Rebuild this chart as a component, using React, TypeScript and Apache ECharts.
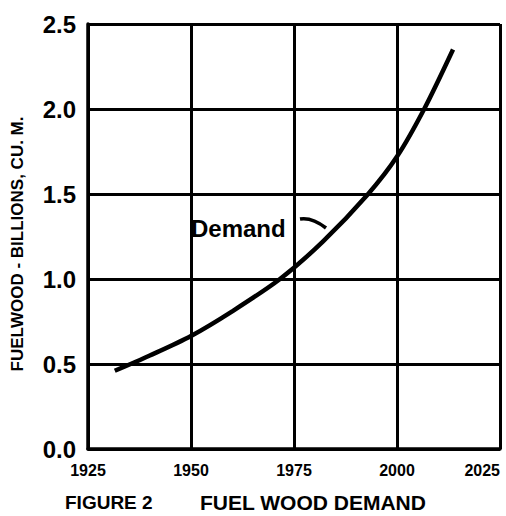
import React, { useEffect, useRef } from "react";
import * as echarts from "echarts";

const years = [1931.5, 1940, 1950, 1960, 1971.6, 1982, 1993, 2000, 2006.6, 2013.6];
const demand = [0.46, 0.55, 0.665, 0.81, 1.0, 1.22, 1.5, 1.72, 2.0, 2.35];
const xTicks = [1925, 1950, 1975, 2000, 2025];
const yTicks = [0.0, 0.5, 1.0, 1.5, 2.0, 2.5];
const yAxisTitle = "FUELWOOD - BILLIONS, CU. M.";
const figureLabel = "FIGURE 2";
const figureTitle = "FUEL WOOD DEMAND";
const seriesLabel = "Demand";

const FONT = '"Liberation Sans", Arial, sans-serif';

export default function App() {
  const ref = useRef<HTMLDivElement>(null);
  useEffect(() => {
    if (!ref.current) return;
    const chart = echarts.init(ref.current, undefined, { renderer: "svg" });
    const data = years.map((y, i) => [y, demand[i]]);
    chart.setOption({
      animation: false,
      backgroundColor: "#fff",
      grid: { left: 88, right: 6, top: 24, bottom: 67, containLabel: false },
      xAxis: {
        type: "value",
        min: xTicks[0],
        max: xTicks[xTicks.length - 1],
        interval: 25,
        axisLine: { show: true, lineStyle: { color: "#000", width: 3.5 } },
        axisTick: { show: false },
        splitLine: { show: true, lineStyle: { color: "#000", width: 3 } },
        axisLabel: {
          color: "#000",
          fontFamily: FONT,
          fontWeight: "bold",
          fontSize: 16,
          margin: 13,
          alignMaxLabel: "right",
          formatter: (v: number) => String(v),
        },
      },
      yAxis: {
        type: "value",
        min: yTicks[0],
        max: yTicks[yTicks.length - 1],
        interval: 0.5,
        axisLine: { show: true, lineStyle: { color: "#000", width: 3.5 } },
        axisTick: { show: false },
        splitLine: { show: true, lineStyle: { color: "#000", width: 3 } },
        axisLabel: {
          color: "#000",
          fontFamily: FONT,
          fontWeight: "bold",
          fontSize: 24,
          margin: 12,
          formatter: (v: number) => v.toFixed(1),
        },
      },
      series: [
        {
          type: "line",
          data,
          smooth: 0.3,
          showSymbol: false,
          lineStyle: { color: "#000", width: 4.5 },
        },
      ],
      graphic: [
        {
          type: "text",
          x: 17,
          y: 244,
          rotation: Math.PI / 2,
          style: {
            text: yAxisTitle,
            fill: "#000",
            font: `bold 17px ${FONT}`,
            textAlign: "center",
            textVerticalAlign: "middle",
          },
        },
        {
          type: "text",
          x: 191,
          y: 228,
          style: {
            text: seriesLabel,
            fill: "#000",
            font: `bold 24px ${FONT}`,
            textAlign: "left",
            textVerticalAlign: "middle",
          },
        },
        {
          type: "bezierCurve",
          shape: { x1: 300, y1: 219, cpx1: 312, cpy1: 217, x2: 326, y2: 228 },
          style: { stroke: "#000", lineWidth: 3.5, fill: "none" },
        },
        {
          type: "text",
          x: 65,
          y: 502,
          style: {
            text: figureLabel,
            fill: "#000",
            font: `bold 19px ${FONT}`,
            textAlign: "left",
            textVerticalAlign: "middle",
          },
        },
        {
          type: "text",
          x: 200,
          y: 502,
          style: {
            text: figureTitle,
            fill: "#000",
            font: `bold 21px ${FONT}`,
            textAlign: "left",
            textVerticalAlign: "middle",
          },
        },
      ],
    });
    return () => chart.dispose();
  }, []);
  return (
    <div
      ref={ref}
      style={{ position: "absolute", left: 0, top: 0, width: 506, height: 516, background: "#fff" }}
    />
  );
}
